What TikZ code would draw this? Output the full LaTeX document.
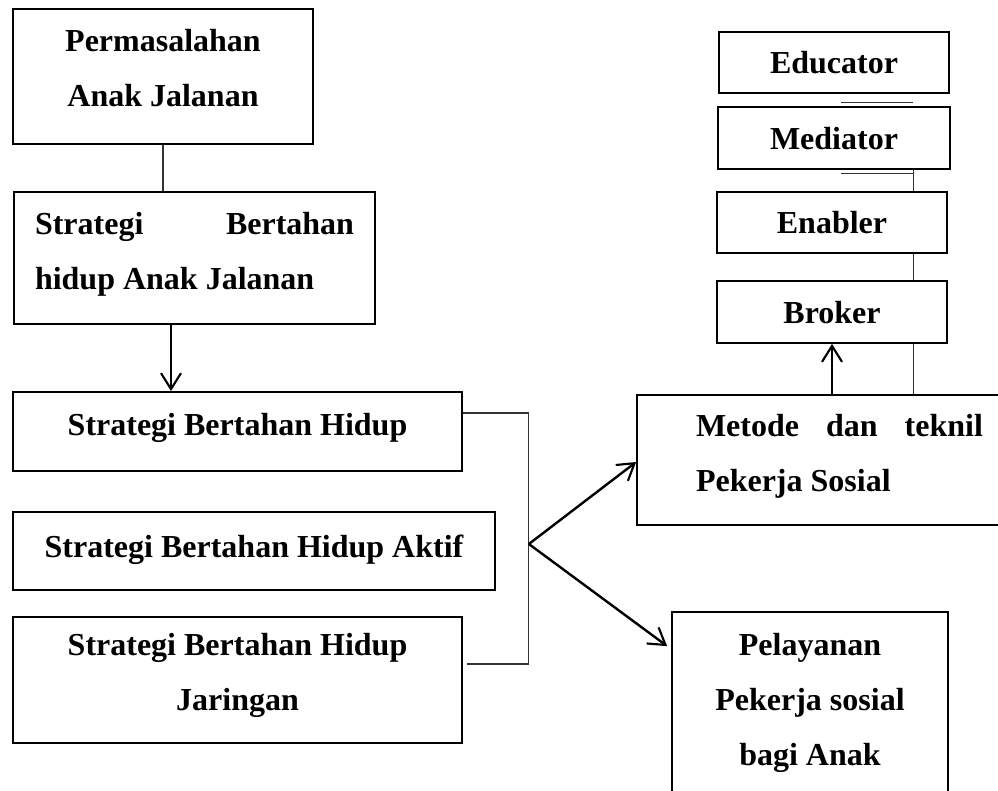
\documentclass[tikz,border=0pt]{standalone}
\usepackage{fontspec}
\setmainfont{Liberation Serif}
\usepackage{tikz}
\usetikzlibrary{arrows.meta, positioning, calc}

\begin{document}
\begin{tikzpicture}[
    x=0.75pt, y=-0.75pt,
    box/.style={draw=black, rectangle, line width=1.3pt, inner ysep=0pt, text height=17pt,
        font=\bfseries\fontsize{24}{41.25}\selectfont, align=center},
    link/.style={draw=black!80, line width=0.9pt},
    arrow/.style={-{Straight Barb[length=12pt, width=15pt, line width=1.6pt]}, line width=1.8pt}
]
\useasboundingbox (0,0) rectangle (998,791);

% kolom kiri
\node[box, minimum width=225pt, minimum height=101.25pt, text height=58.25pt, text depth=12.5pt] (perm) at (163,76.5)
    {Permasalahan\\Anak Jalanan};
\node[box, text width=239.25pt, inner xsep=15.75pt, minimum height=99pt, text depth=52pt, align=justify] (hidup) at (194.5,258)
    {Strategi\hfill Bertahan\\hidup Anak Jalanan};
\node[box, minimum width=336.75pt, minimum height=59.25pt, text depth=10.7pt] (sbh) at (237.5,431.5)
    {Strategi Bertahan Hidup};
\node[box, minimum width=361.5pt, minimum height=58.5pt, text depth=7pt] (aktif) at (254,551)
    {Strategi Bertahan Hidup Aktif};
\node[box, minimum width=336.75pt, minimum height=94.5pt, text height=58.25pt, text depth=13.25pt] (jar) at (237.5,680)
    {Strategi Bertahan Hidup\\Jaringan};

% kolom kanan
\node[box, minimum width=172.5pt, minimum height=45.75pt, text depth=0pt] (edu) at (834,62.5) {Educator};
\node[box, minimum width=174pt, minimum height=46.5pt, text depth=0pt] (med) at (834,138) {Mediator};
\node[box, minimum width=172.5pt, minimum height=45.75pt, text depth=0.2pt] (ena) at (832,222.5) {Enabler};
\node[box, minimum width=172.5pt, minimum height=46.5pt, text depth=0pt] (bro) at (832,312) {Broker};
\node[box, text width=215.25pt, inner xsep=44.25pt, minimum height=97.5pt, text depth=53pt, align=justify] (met) at (839.5,460)
    {Metode\hfill dan\hfill teknil\\Pekerja Sosial};
\node[box, minimum width=207pt, minimum height=150pt, text height=99.5pt, text depth=20pt] (pel) at (810,712)
    {Pelayanan\\Pekerja sosial\\bagi Anak};

% penghubung
\draw[link] (perm.south) -- (perm.south |- hidup.north);
\coordinate (h1) at ($(hidup.south)+(-23.5,0)$);
\draw[arrow] (h1) -- (h1 |- sbh.north);
\draw[link] ($(sbh.east)+(0,-18.5)$) -- ++(66,0) |- ($(jar.east)+(4,-16)$);
\coordinate (fork) at ($(sbh.east)+(66,112.5)$);
\draw[arrow] (fork) -- ($(met.west)+(0,2)$);
\draw[arrow] (fork) -- ($(pel.north west)+(-4,35)$);

\draw[arrow] (met.north -| bro.south) -- (bro.south);
\coordinate (rail) at ($(bro.east)+(-34,0)$);
\draw[link] (rail |- met.north) -- (rail |- bro.south);
\draw[link] (rail |- bro.north) -- (rail |- ena.south);
\draw[link] (rail |- ena.north) -- (rail |- med.south);
\draw[link] ($(med.north)+(7,-4)$) -- ++(72,0);
\draw[link] ($(med.south)+(7,4)$) -- ++(72,0);
\end{tikzpicture}
\end{document}
